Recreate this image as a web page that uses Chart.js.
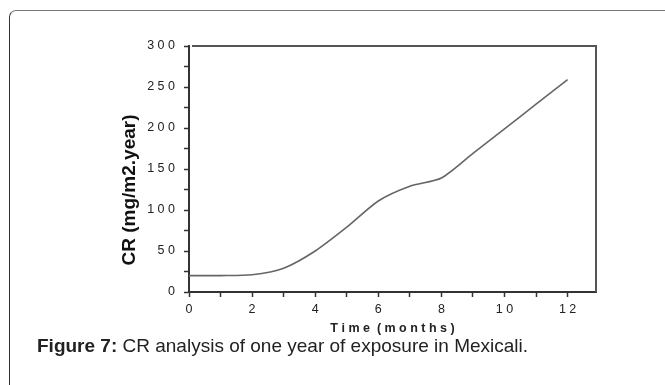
<!DOCTYPE html>
<html>
<head>
<meta charset="utf-8">
<script src="https://cdn.jsdelivr.net/npm/chart.js@4.4.1/dist/chart.umd.min.js"></script>
<style>
  html, body { margin: 0; padding: 0; background: #fff; overflow: hidden; }
  #wrap { position: relative; width: 665px; height: 385px; overflow: hidden; }
  #frame { position: absolute; left: 9px; top: 10px; width: 720px; height: 420px;
           border: 1.5px solid #777; border-left-color: #333; border-radius: 7px; }
  #box { position: absolute; left: 0; top: 0; width: 665px; height: 385px; }
  #caption { position: absolute; left: 37px; top: 335px; font: 19px "Liberation Sans", Arial, sans-serif; color: #222; white-space: nowrap; }
</style>
</head>
<body>
<div id="wrap">
  <div id="frame"></div>
  <div id="box"><canvas id="myChart" width="665" height="385"></canvas></div>
  <div id="caption"><b>Figure 7:</b> CR analysis of one year of exposure in Mexicali.</div>
</div>
<script>
// values
var months = [0, 1, 2, 3, 4, 5, 6, 7, 8, 9, 10, 11, 12];
var crValues = [20, 20, 21, 29, 50, 79, 111, 129, 139, 169, 199, 229, 259];
var xTitle = 'T i m e  ( m o n t h s )';
var yTitle = 'CR (mg/m2.year)';

function spaced(v) {
    return String(v).split('').join(' ');
}

var points = [];
for (var i = 0; i < months.length; i++) {
    points.push({x: months[i], y: crValues[i]});
}

// top + right frame of the plot, and the y title (sits lower than the axis centre)
var frameLines = {
    id: 'frameLines',
    afterDraw: function (chart) {
        var a = chart.chartArea, ctx = chart.ctx;
        ctx.save();
        ctx.strokeStyle = '#555';
        ctx.lineWidth = 2;
        ctx.beginPath();
        ctx.moveTo(a.left + 3, a.top);
        ctx.lineTo(a.right, a.top);
        ctx.lineTo(a.right, a.bottom);
        ctx.stroke();

        ctx.translate(a.left - 59, a.top + 144);
        ctx.rotate(-Math.PI / 2);
        ctx.fillStyle = '#111';
        ctx.font = 'bold 19px "Liberation Sans"';
        ctx.textAlign = 'center';
        ctx.textBaseline = 'middle';
        ctx.fillText(yTitle, 0, 0);
        ctx.restore();
    }
};

var ctx = document.getElementById('myChart').getContext('2d');
var chart1 = new Chart(ctx, {
    type: 'line',
    data: {
        datasets: [{
            label: 'CR',
            data: points,
            borderColor: '#666',
            borderWidth: 1.6,
            pointRadius: 0,
            fill: false,
            tension: 0.25
        }]
    },
    options: {
        responsive: false,
        animation: false,
        layout: {padding: {left: 119, right: 69, top: 46, bottom: 45}},
        plugins: {legend: {display: false}, tooltip: {enabled: false}},
        scales: {
            x: {
                type: 'linear',
                min: 0,
                max: 12.9,
                afterBuildTicks: function (s) {
                    s.ticks = months.map(function (m) { return {value: m}; });
                },
                afterFit: function (s) { s.height = 48; },
                grid: {drawOnChartArea: false, drawTicks: true, tickLength: 5, tickColor: '#333', tickWidth: 1.5},
                border: {display: true, color: '#333', width: 2},
                ticks: {
                    autoSkip: false,
                    maxRotation: 0,
                    padding: 5,
                    color: '#222',
                    font: {family: 'Liberation Sans', size: 12.5},
                    callback: function (v) { return v % 2 === 0 ? spaced(v) : ''; }
                },
                title: {
                    display: true,
                    text: xTitle,
                    color: '#222',
                    padding: {top: 0, bottom: 4},
                    font: {family: 'Liberation Sans', size: 12.5, weight: 'bold'}
                }
            },
            y: {
                min: 0,
                max: 300,
                afterFit: function (s) { s.width = 70; },
                grid: {drawOnChartArea: false, drawTicks: true, tickLength: 5, tickColor: '#333', tickWidth: 1.5},
                border: {display: true, color: '#333', width: 2},
                ticks: {
                    stepSize: 25,
                    autoSkip: false,
                    padding: 9,
                    color: '#222',
                    font: {family: 'Liberation Sans', size: 12.5},
                    callback: function (v) { return v % 50 === 0 ? spaced(v) : ''; }
                },
                title: {display: false}
            }
        }
    },
    plugins: [frameLines]
});
</script>
</body>
</html>
